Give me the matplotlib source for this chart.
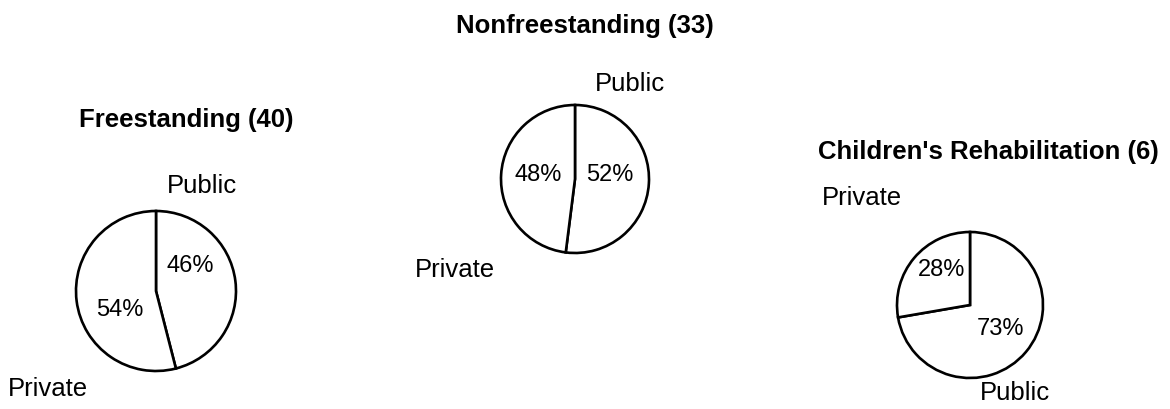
import matplotlib.pyplot as plt

plt.rcParams['font.family'] = ['Liberation Sans', 'DejaVu Sans']

W, H = 1170, 409

titles = ['Freestanding (40)', 'Nonfreestanding (33)', "Children's Rehabilitation (6)"]
public = [46, 52, 73]
private = [54, 48, 28]

# pie centres / radius in pixels (y from top)
centers = [(156, 291), (575, 179), (970, 305)]
radii = [80, 74, 73]

# text spots in pixels (y from top)
title_pos = [(186, 120), (585, 26), (988, 152)]
public_pos = [(202, 186), (630, 84), (1015, 393)]
private_pos = [(48, 389), (455, 270), (862, 198)]
pub_pct_pos = [(190, 266), (610, 175), (1001, 329)]
priv_pct_pos = [(120, 310), (538, 175), (942, 270)]

fig = plt.figure(figsize=(W / 100, H / 100), dpi=100)
ax = fig.add_axes([0, 0, 1, 1])

for i in range(3):
    cx, cy = centers[i]
    ax.pie([public[i], private[i]], center=(cx, H - cy), radius=radii[i],
           startangle=90, counterclock=False,
           wedgeprops=dict(facecolor='white', edgecolor='black', linewidth=1.9))

    x, y = title_pos[i]
    ax.text(x, H - y, titles[i], ha='center', va='center', fontsize=18.5, fontweight='bold')
    x, y = public_pos[i]
    ax.text(x, H - y, 'Public', ha='center', va='center', fontsize=18.5)
    x, y = private_pos[i]
    ax.text(x, H - y, 'Private', ha='center', va='center', fontsize=18.5)
    x, y = pub_pct_pos[i]
    ax.text(x, H - y, '%d%%' % public[i], ha='center', va='center', fontsize=17)
    x, y = priv_pct_pos[i]
    ax.text(x, H - y, '%d%%' % private[i], ha='center', va='center', fontsize=17)

ax.set_xlim(0, W)
ax.set_ylim(0, H)
ax.set_aspect('auto')
ax.axis('off')

fig.savefig('out.png', dpi=100)
